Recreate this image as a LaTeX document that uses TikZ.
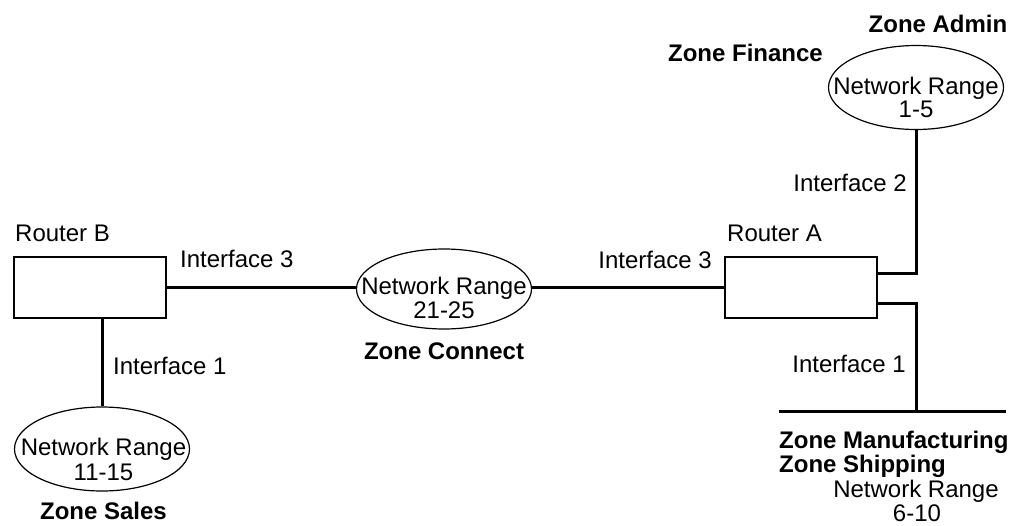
\documentclass[tikz,border=0pt]{standalone}
\usepackage{fontspec}
\setmainfont{Liberation Sans}
\usetikzlibrary{shapes.geometric}
\begin{document}
\begin{tikzpicture}[x=1pt,y=-1pt,
  lbl/.style={inner sep=0pt, font=\fontsize{24}{25}\selectfont},
  zlbl/.style={inner sep=0pt, font=\fontsize{24}{25}\selectfont\bfseries},
  router/.style={draw, line width=1.3pt, minimum width=152pt, minimum height=61pt, inner sep=0pt},
  net/.style={draw, ellipse, line width=1.2pt, minimum width=175pt, minimum height=84pt, inner sep=0pt},
  link/.style={line width=3pt}]
\useasboundingbox (0,0) rectangle (1019,525);
\fill[white] (0,0) rectangle (1019,525);

% routers
\node[router] (rb) at (90,287.5) {};
\node[router] (ra) at (801,287.5) {};

% networks
\node[net] (n1) at (916,87.5) {};
\node[net, minimum height=80pt] (n2) at (444,289) {};
\node[net] (n3) at (102,449) {};

% bus
\coordinate (busL) at (779,411);
\coordinate (busR) at (1006,411);
\coordinate (busT) at (916,411);

% connectors
\draw[link] (rb.east) -- (rb.east -| n2.west);
\draw[link] (ra.west -| n2.east) -- (ra.west);
\draw[link] (rb.south -| n3.north) -- (n3.north);
\draw[link] ([yshift=14.5pt]ra.east) -| (n1.south);
\draw[link] ([yshift=-15.5pt]ra.east) -| (busT);
\draw[link] (busL) -- (busR);

% network texts
\node[lbl, anchor=base] (n1a) at (916,94) {Network Range};
\node[lbl, anchor=base] (n1b) at (916,117) {1-5};
\node[lbl, anchor=base] (n2a) at (444,294) {Network Range};
\node[lbl, anchor=base] (n2b) at (444,318) {21-25};
\node[lbl, anchor=base] (n3a) at (103.5,455) {Network Range};
\node[lbl, anchor=base] (n3b) at (103.5,480) {11-15};
\node[lbl, anchor=base] (n4a) at (916,497.5) {Network Range};
\node[lbl, anchor=base] (n4b) at (917,521.5) {6-10};

% labels
\node[zlbl, anchor=base] (zadm) at (938,32) {Zone Admin};
\node[zlbl, anchor=base east] (zfin) at (823,61) {Zone Finance};
\node[lbl, anchor=base east] (if2) at (907,191) {Interface 2};
\node[lbl, anchor=base west] (rta) at (727,241) {Router A};
\node[lbl, anchor=base east] (if3r) at (712,268) {Interface 3};
\node[lbl, anchor=base east] (if1r) at (906,372) {Interface 1};
\node[zlbl, anchor=base west] (zman) at (779,448) {Zone Manufacturing};
\node[zlbl, anchor=base west] (zship) at (779,472) {Zone Shipping};
\node[lbl, anchor=base west] (rtb) at (15,241) {Router B};
\node[lbl, anchor=base west] (if3l) at (180,267) {Interface 3};
\node[lbl, anchor=base west] (if1l) at (113,374) {Interface 1};
\node[zlbl, anchor=base] (zcon) at (444,359) {Zone Connect};
\node[zlbl, anchor=base] (zsal) at (103.5,519) {Zone Sales};
\end{tikzpicture}
\end{document}
